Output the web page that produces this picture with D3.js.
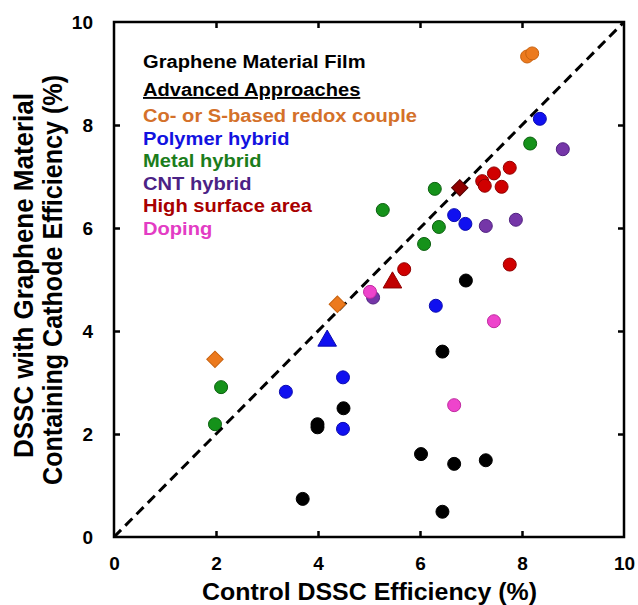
<!DOCTYPE html>
<html lang="en">
<head>
  <meta charset="UTF-8" />
  <script src="https://d3js.org/d3.v7.min.js"></script>
  <title>DSSC graphene cathodes</title>
  <style>
    body { margin: 0; background: #fff; }
    text { font-family: "Liberation Sans", Arial, sans-serif; font-weight: bold; }
  </style>
</head>
<body>
<script type="text/javascript">
// values: [control efficiency, graphene cathode efficiency]
var filmPts = [[3.7,0.74],[3.99,2.19],[3.99,2.13],[4.5,2.5],[6.9,4.98],[6.44,3.6],[6.02,1.61],[6.67,1.42],[7.29,1.49],[6.44,0.49]];
var redoxDiamonds = [[1.98,3.45],[4.38,4.52]];
var redoxCircles = [[8.1,9.33],[8.2,9.39]];
var polymerPts = [[8.35,8.12],[3.37,2.82],[4.49,3.1],[4.49,2.1],[6.31,4.49],[6.67,6.25],[6.89,6.08]];
var polymerTri = [[4.18,3.81]];
var metalPts = [[1.98,2.19],[2.1,2.91],[5.27,6.35],[6.29,6.76],[6.37,6.02],[6.08,5.69],[8.16,7.64]];
var cntPts = [[8.8,7.53],[7.29,6.04],[7.88,6.16],[5.08,4.65]];
var surfacePts = [[7.22,6.91],[7.27,6.82],[7.45,7.06],[7.76,7.17],[7.6,6.8],[7.76,5.29],[5.69,5.2]];
var surfaceTri = [[5.46,4.94]];
var surfaceDiamond = [[6.78,6.78]];
var dopingPts = [[5.02,4.76],[7.45,4.19],[6.67,2.56]];
var parity = [[0,0],[10,10]];

var tickVals = [0,2,4,6,8,10];
var legendHead = ["Graphene Material Film", "Advanced Approaches"];
var legendItems = ["Co- or S-based redox couple","Polymer hybrid","Metal hybrid","CNT hybrid","High surface area","Doping"];
var legendColors = ["#d4712a","#1212e0","#1b7d1b","#4b2285","#a80000","#e33cc4"];

var margin = {top: 22, right: 14, bottom: 68, left: 114},
    width = 638 - margin.left - margin.right,
    height = 605 - margin.top - margin.bottom;

var x = d3.scaleLinear().domain([0,10]).range([0, width]);
var y = d3.scaleLinear().domain([0,10]).range([height, 0]);

var svg = d3.select("body").append("svg").attr("width", 638).attr("height", 605);
var g = svg.append("g").attr("transform", "translate(" + margin.left + "," + margin.top + ")");

// parity line
g.append("path").datum(parity)
  .attr("d", d3.line().x(function(d){return x(d[0]);}).y(function(d){return y(d[1]);}))
  .attr("stroke", "#000").attr("stroke-width", 3).attr("stroke-dasharray", "10,6").attr("fill", "none");

// inner ticks on all four sides
var inner = [2,4,6,8];
function noLab(){ return ""; }
g.append("g").attr("transform", "translate(0," + height + ")").call(d3.axisTop(x).tickValues(inner).tickSize(6).tickFormat(noLab));
g.append("g").call(d3.axisBottom(x).tickValues(inner).tickSize(6).tickFormat(noLab));
g.append("g").call(d3.axisRight(y).tickValues(inner).tickSize(6).tickFormat(noLab));
g.append("g").attr("transform", "translate(" + width + ",0)").call(d3.axisLeft(y).tickValues(inner).tickSize(6).tickFormat(noLab));
g.selectAll(".domain").remove();
g.selectAll(".tick line").attr("stroke", "#000").attr("stroke-width", 2.5);

// tick labels
var xa = g.append("g").attr("transform", "translate(0," + height + ")")
  .call(d3.axisBottom(x).tickValues(tickVals).tickSize(0).tickPadding(19.5));
var ya = g.append("g").call(d3.axisLeft(y).tickValues(tickVals).tickSize(0).tickPadding(21));
[xa, ya].forEach(function(a){
  a.select(".domain").remove();
  a.selectAll("text").attr("font-size", 19).attr("fill", "#000")
    .style("font-family", "'Liberation Sans', Arial, sans-serif").style("font-weight", "bold");
});

// frame
g.append("rect").attr("width", width).attr("height", height)
  .attr("fill", "none").attr("stroke", "#000").attr("stroke-width", 2.5);

// markers
function dot(data, fill, stroke) {
  g.selectAll(null).data(data).enter().append("circle")
    .attr("cx", function(d){return x(d[0]);}).attr("cy", function(d){return y(d[1]);})
    .attr("r", 6.5).attr("fill", fill).attr("stroke", stroke).attr("stroke-width", 1);
}
function sym(data, type, size, rot, fill, stroke) {
  g.selectAll(null).data(data).enter().append("path")
    .attr("d", d3.symbol().type(type).size(size))
    .attr("transform", function(d){return "translate(" + x(d[0]) + "," + y(d[1]) + ") rotate(" + rot + ")";})
    .attr("fill", fill).attr("stroke", stroke).attr("stroke-width", 1);
}
dot(filmPts, "#000", "#000");
dot(redoxCircles, "#ec7a1e", "#c8620f");
sym(redoxDiamonds, d3.symbolSquare, 135, 45, "#ec7a1e", "#c8620f");
dot(polymerPts, "#1010f0", "#0a0ab0");
sym(polymerTri, d3.symbolTriangle, 150, 0, "#1010f0", "#0a0ab0");
dot(metalPts, "#15921a", "#0c6010");
dot(cntPts, "#7536a8", "#4f2080");
dot(surfacePts, "#d00000", "#900000");
sym(surfaceTri, d3.symbolTriangle, 150, 0, "#c00000", "#900000");
sym(surfaceDiamond, d3.symbolSquare, 135, 45, "#900000", "#500000");
dot(dopingPts, "#ee44cc", "#c02aa0");

// legend text
var lg = svg.append("g").attr("font-size", 19).attr("transform", "translate(143,0) scale(1.06,1)");
lg.append("text").attr("x", 0).attr("y", 68).attr("fill", "#000").text(legendHead[0]);
lg.append("text").attr("x", 0).attr("y", 96).attr("fill", "#000")
  .attr("text-decoration", "underline").text(legendHead[1]);
lg.selectAll(null).data(legendItems).enter().append("text")
  .attr("x", 0).attr("y", function(d,i){return 122 + i*22.6;})
  .attr("fill", function(d,i){return legendColors[i];})
  .text(function(d){return d;});

// axis titles
svg.append("text").attr("x", 202).attr("y", 600)
  .attr("font-size", 24).attr("textLength", 335).attr("lengthAdjust", "spacingAndGlyphs")
  .attr("fill", "#000").text("Control DSSC Efficiency (%)");
svg.append("text").attr("transform", "translate(33,458) rotate(-90)")
  .attr("font-size", 27).attr("textLength", 365).attr("lengthAdjust", "spacingAndGlyphs")
  .attr("fill", "#000").text("DSSC  with Graphene Material");
svg.append("text").attr("transform", "translate(62,485) rotate(-90)")
  .attr("font-size", 27).attr("textLength", 410).attr("lengthAdjust", "spacingAndGlyphs")
  .attr("fill", "#000").text("Containing Cathode Efficiency (%)");
</script>
</body>
</html>
